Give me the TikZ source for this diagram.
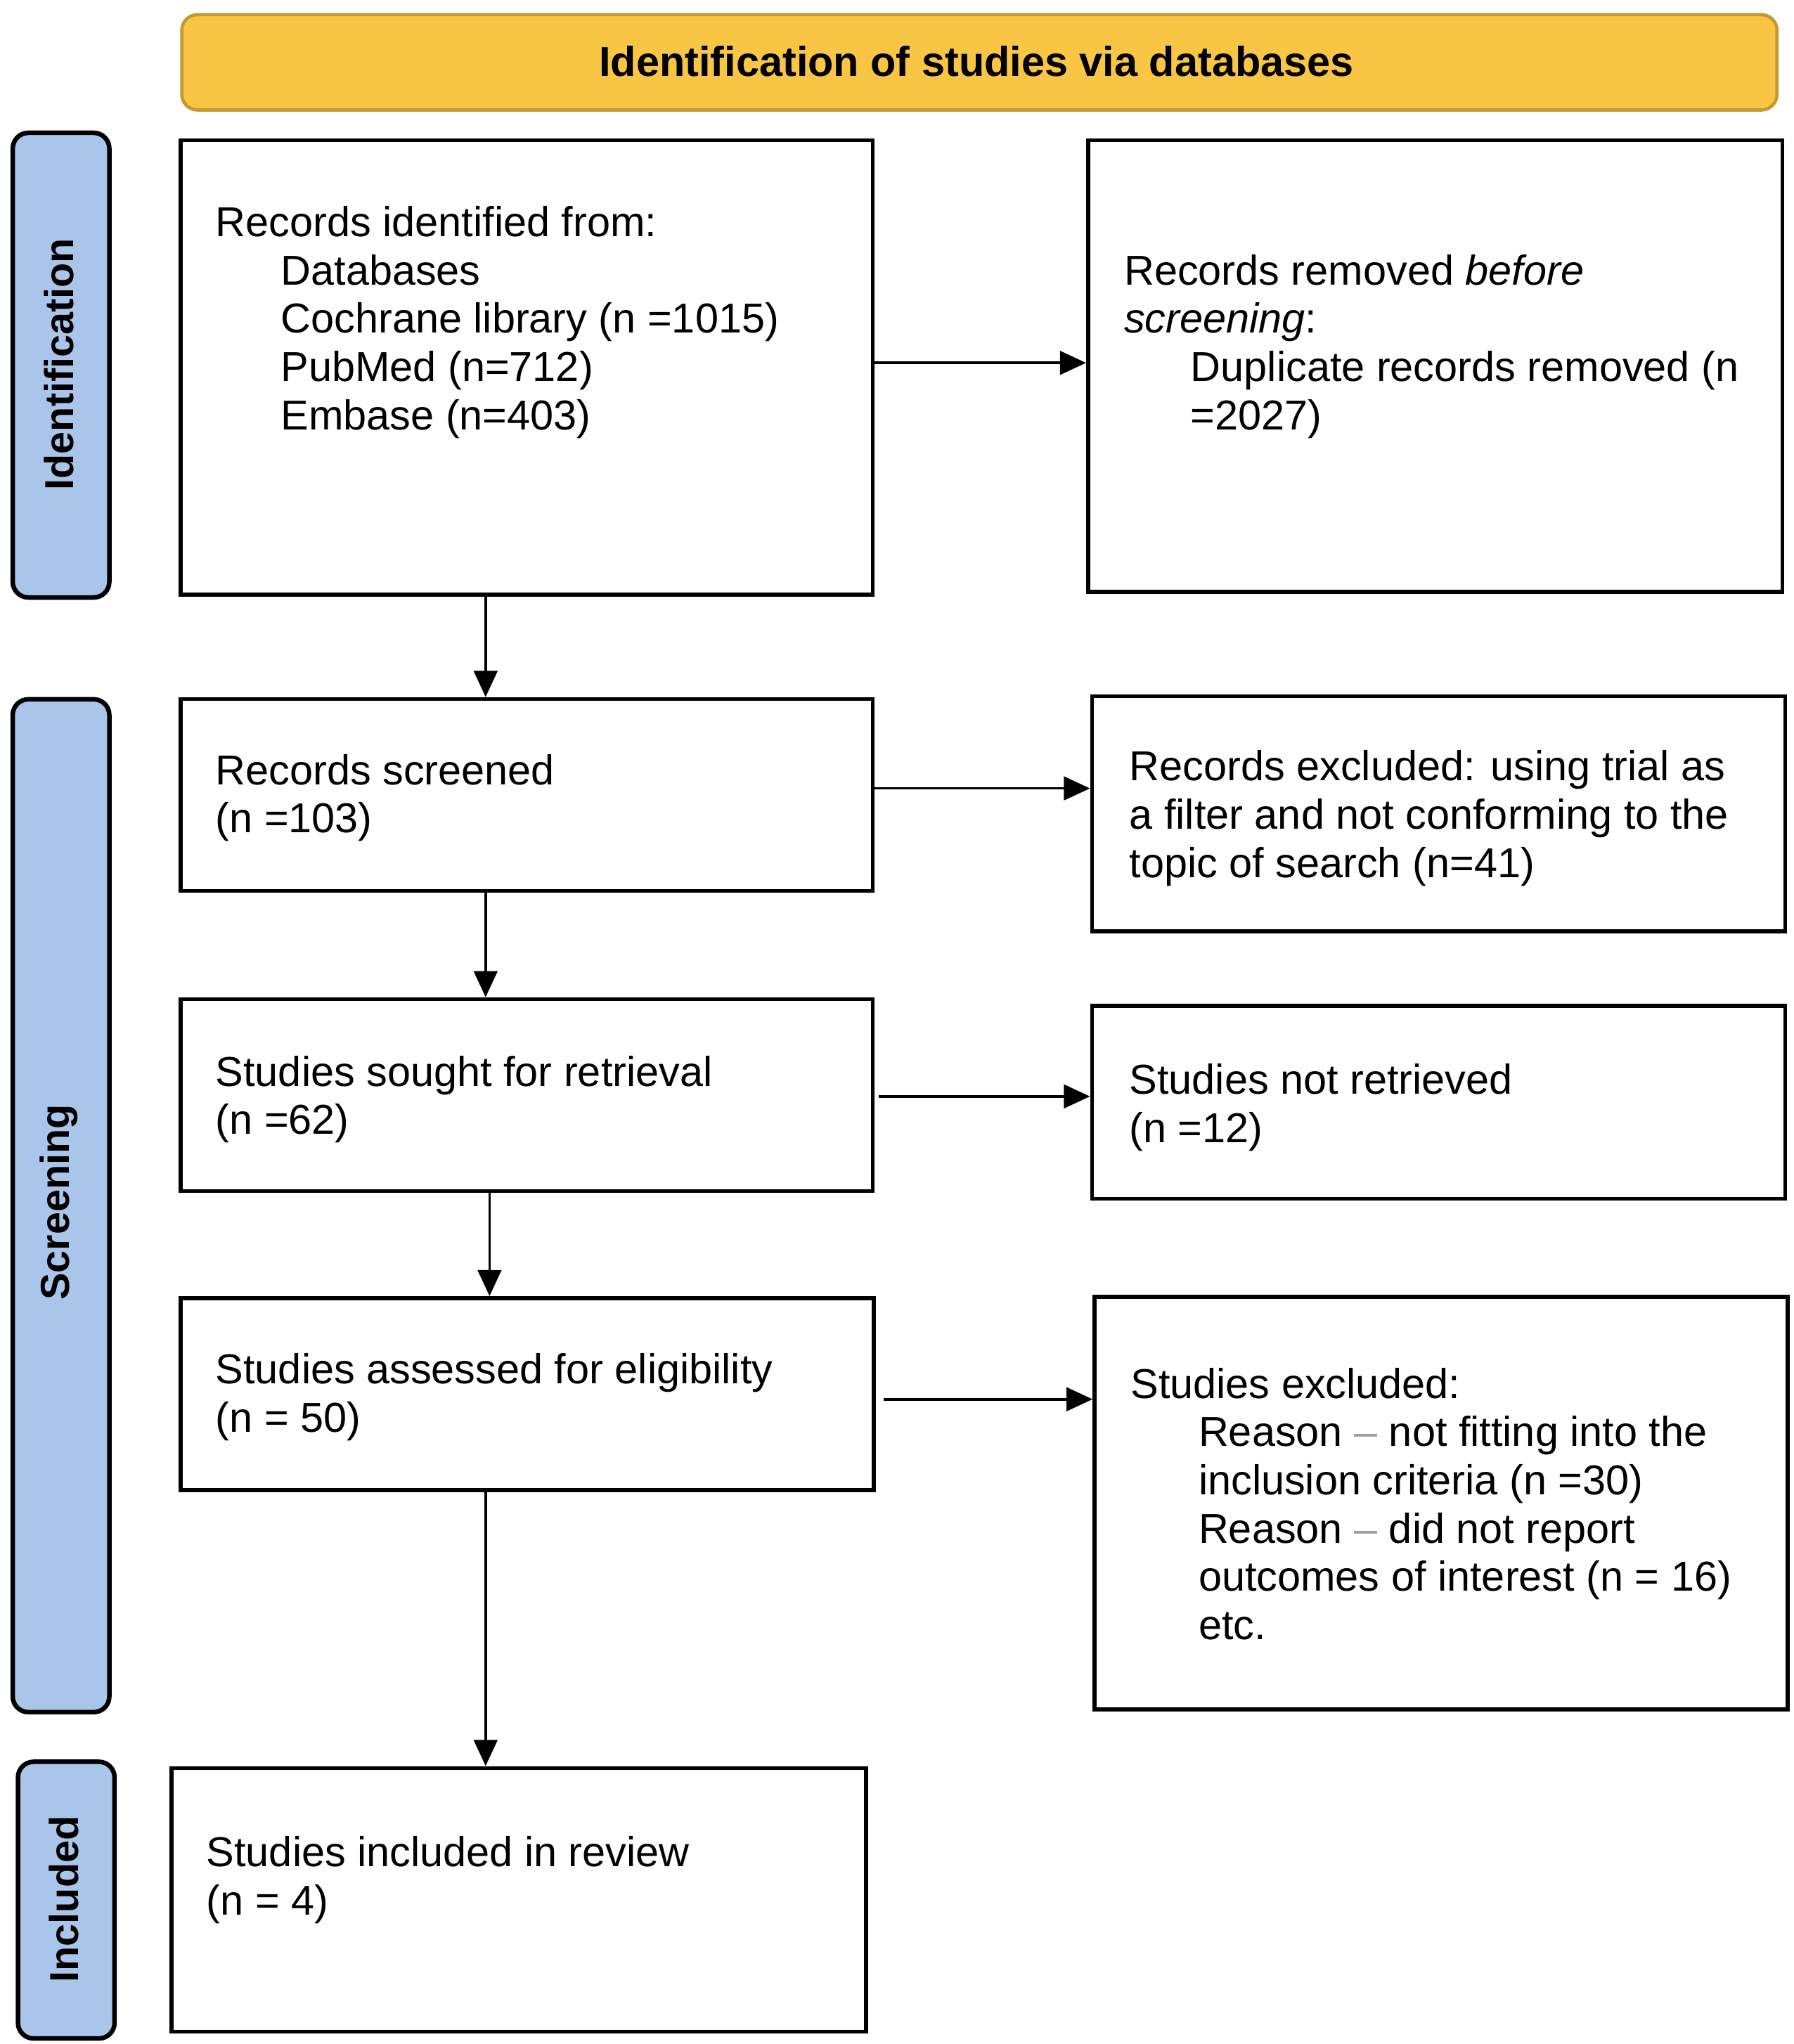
\documentclass[tikz,border=0pt]{standalone}
\usepackage{fontspec}
\setmainfont{Liberation Sans}
\usetikzlibrary{arrows.meta}
\definecolor{hdrfill}{HTML}{F8C545}
\definecolor{hdrdraw}{HTML}{C49A2E}
\definecolor{barfill}{HTML}{A9C5E9}
\definecolor{dashgray}{HTML}{A0A0A0}
\newcommand{\gdash}{\textcolor{dashgray}{--}}
\tikzset{
  box/.style={draw=black, line width=3pt, fill=white, rectangle, inner sep=0pt, anchor=north west},
  bar/.style={draw=black, line width=3.5pt, fill=barfill, rectangle, rounded corners=12pt, inner sep=0pt, anchor=north west},
  hdr/.style={draw=hdrdraw, line width=2.5pt, fill=hdrfill, rectangle, rounded corners=12pt, inner sep=0pt, anchor=north west},
  txt/.style={anchor=north west, inner sep=0pt, align=left, font=\fontsize{32}{37}\selectfont},
  lbl/.style={inner sep=0pt, rotate=90, font=\fontsize{31}{37}\selectfont\bfseries},
  arr/.style={line width=2pt, -{Triangle[length=20pt,width=18pt]}}
}
\begin{document}
\begin{tikzpicture}[x=1pt,y=-1pt]
\useasboundingbox (0,0) rectangle (1374,1566);
% header
\node[hdr, minimum width=1222pt, minimum height=73pt] (hdr) at (138,10) {};
\node[inner sep=0pt, font=\fontsize{32}{37}\selectfont\bfseries] (hdrt) at (748,47) {Identification of studies via databases};
% side bars
\node[bar, minimum width=74pt, minimum height=356pt] (bid) at (8,100) {};
\node[lbl] (bidt) at (45,279) {Identification};
\node[bar, minimum width=74pt, minimum height=776pt] (bsc) at (8,534) {};
\node[lbl] (bsct) at (45,921) {Screening};
\node[bar, minimum width=74pt, minimum height=212pt] (bin) at (12,1348) {};
\node[lbl] (bint) at (49,1455) {Included};
% boxes
\node[box, minimum width=530pt, minimum height=348pt] (b1) at (137,106) {};
\node[box, minimum width=532pt, minimum height=346pt] (b2) at (832,106) {};
\node[box, minimum width=530pt, minimum height=147pt] (b3) at (137,534) {};
\node[box, minimum width=531pt, minimum height=180pt] (b4) at (835,532) {};
\node[box, minimum width=530pt, minimum height=147pt] (b5) at (137,764) {};
\node[box, minimum width=531pt, minimum height=148pt] (b6) at (835,769) {};
\node[box, minimum width=531pt, minimum height=147pt] (b7) at (137,993) {};
\node[box, minimum width=531pt, minimum height=316pt] (b8) at (837,992) {};
\node[box, minimum width=532pt, minimum height=202pt] (b9) at (130,1353) {};
% texts
\node[txt] (b1t) at (165,155) {\strut Records identified from:\\
\hspace*{50pt}Databases\\
\hspace*{50pt}Cochrane library (n =1015)\\
\hspace*{50pt}PubMed (n=712)\\
\hspace*{50pt}Embase (n=403)};
\node[txt] (b2t) at (861,192) {\strut Records removed \textit{before}\\
\textit{screening}:\\
\hspace*{51pt}Duplicate records removed (n\\
\hspace*{51pt}=2027)};
\node[txt] (b3t) at (165,575) {\strut Records screened\\(n =103)};
\node[txt] (b4t) at (865,572) {\strut Records excluded: using trial as\\
a filter and not conforming to the\\
topic of search (n=41)};
\node[txt] (b5t) at (165,806) {\strut Studies sought for retrieval\\(n =62)};
\node[txt] (b6t) at (865,812) {\strut Studies not retrieved\\(n =12)};
\node[txt] (b7t) at (165,1034) {\strut Studies assessed for eligibility\\(n = 50)};
\node[txt] (b8t) at (866,1045) {\strut Studies excluded:\\
\hspace*{52pt}Reason \gdash{} not fitting into the\\
\hspace*{52pt}inclusion criteria (n =30)\\
\hspace*{52pt}Reason \gdash{} did not report\\
\hspace*{52pt}outcomes of interest (n = 16)\\
\hspace*{52pt}etc.};
\node[txt] (b9t) at (158,1404) {\strut Studies included in review\\(n = 4)};
% vertical arrows
\draw[arr] ([xshift=235pt]b1.south west) -- ([xshift=235pt]b3.north west);
\draw[arr] ([xshift=235pt]b3.south west) -- ([xshift=235pt]b5.north west);
\draw[arr] ([xshift=238pt]b5.south west) -- ([xshift=238pt]b7.north west);
\draw[arr] ([xshift=235pt]b7.south west) -- ([xshift=242pt]b9.north west);
% horizontal arrows
\draw[arr] ([yshift=-172pt]b1.north east) -- ([yshift=-172pt]b2.north west);
\draw[arr] ([yshift=-70pt]b3.north east) -- ([yshift=-72pt]b4.north west);
\draw[arr] ([xshift=3pt,yshift=-76pt]b5.north east) -- ([yshift=-71pt]b6.north west);
\draw[arr] ([xshift=6pt,yshift=-79pt]b7.north east) -- ([yshift=-80pt]b8.north west);
\end{tikzpicture}
\end{document}
